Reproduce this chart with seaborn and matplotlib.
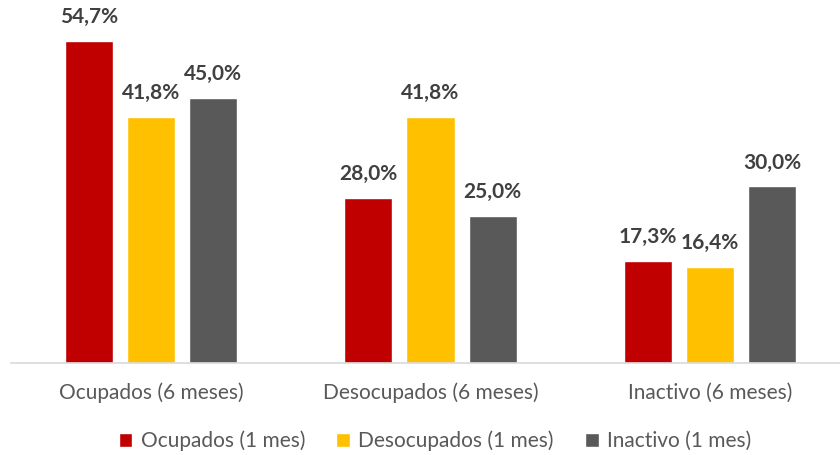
from matplotlib import pyplot as plt
import pandas as pd
import seaborn as sns

# data
groups = ["Ocupados (6 meses)", "Desocupados (6 meses)", "Inactivo (6 meses)"]
series = ["Ocupados (1 mes)", "Desocupados (1 mes)", "Inactivo (1 mes)"]
ocupados = [54.7, 28.0, 17.3]
desocupados = [41.8, 41.8, 16.4]
inactivo = [45.0, 25.0, 30.0]
colors = ["#C00000", "#FFC000", "#595959"]

df = pd.DataFrame({
    "grupo": groups * 3,
    "serie": [series[0]] * 3 + [series[1]] * 3 + [series[2]] * 3,
    "valor": ocupados + desocupados + inactivo,
})

sns.set_style("white")
plt.rcParams['font.family'] = ['Lato', 'DejaVu Sans']

fig = plt.figure(figsize=(8.4, 4.55), dpi=100)
ax = fig.add_axes([11 / 840, 92 / 455, 839 / 840, 353 / 455])

sns.barplot(data=df, x="grupo", y="valor", hue="serie", order=groups,
            hue_order=series, palette=colors, width=0.667, gap=0.226,
            saturation=1, errorbar=None, ax=ax, legend=True)

ax.set_xlim(-0.5, 2.5)
ax.set_ylim(0, 60)

for cont in ax.containers:
    labels = [f"{v:.1f}%".replace(".", ",") for v in cont.datavalues]
    ax.bar_label(cont, labels=labels, padding=10, fontsize=15, fontweight="bold",
                 color="#404040")

for s in ["top", "right", "left"]:
    ax.spines[s].set_visible(False)
ax.spines["bottom"].set_color("#D9D9D9")
ax.spines["bottom"].set_linewidth(1.2)
ax.set_yticks([])
ax.set_xlabel("")
ax.set_ylabel("")
ax.tick_params(axis="x", length=0, pad=14, labelsize=15, labelcolor="#595959")

ax.legend(loc="center", bbox_to_anchor=(435 / 840, 14 / 455),
          bbox_transform=fig.transFigure, ncol=3, frameon=False,
          fontsize=15, labelcolor="#595959", handlelength=0.65, handleheight=0.65,
          handletextpad=0.4, columnspacing=1.5)

plt.savefig("out.png")
